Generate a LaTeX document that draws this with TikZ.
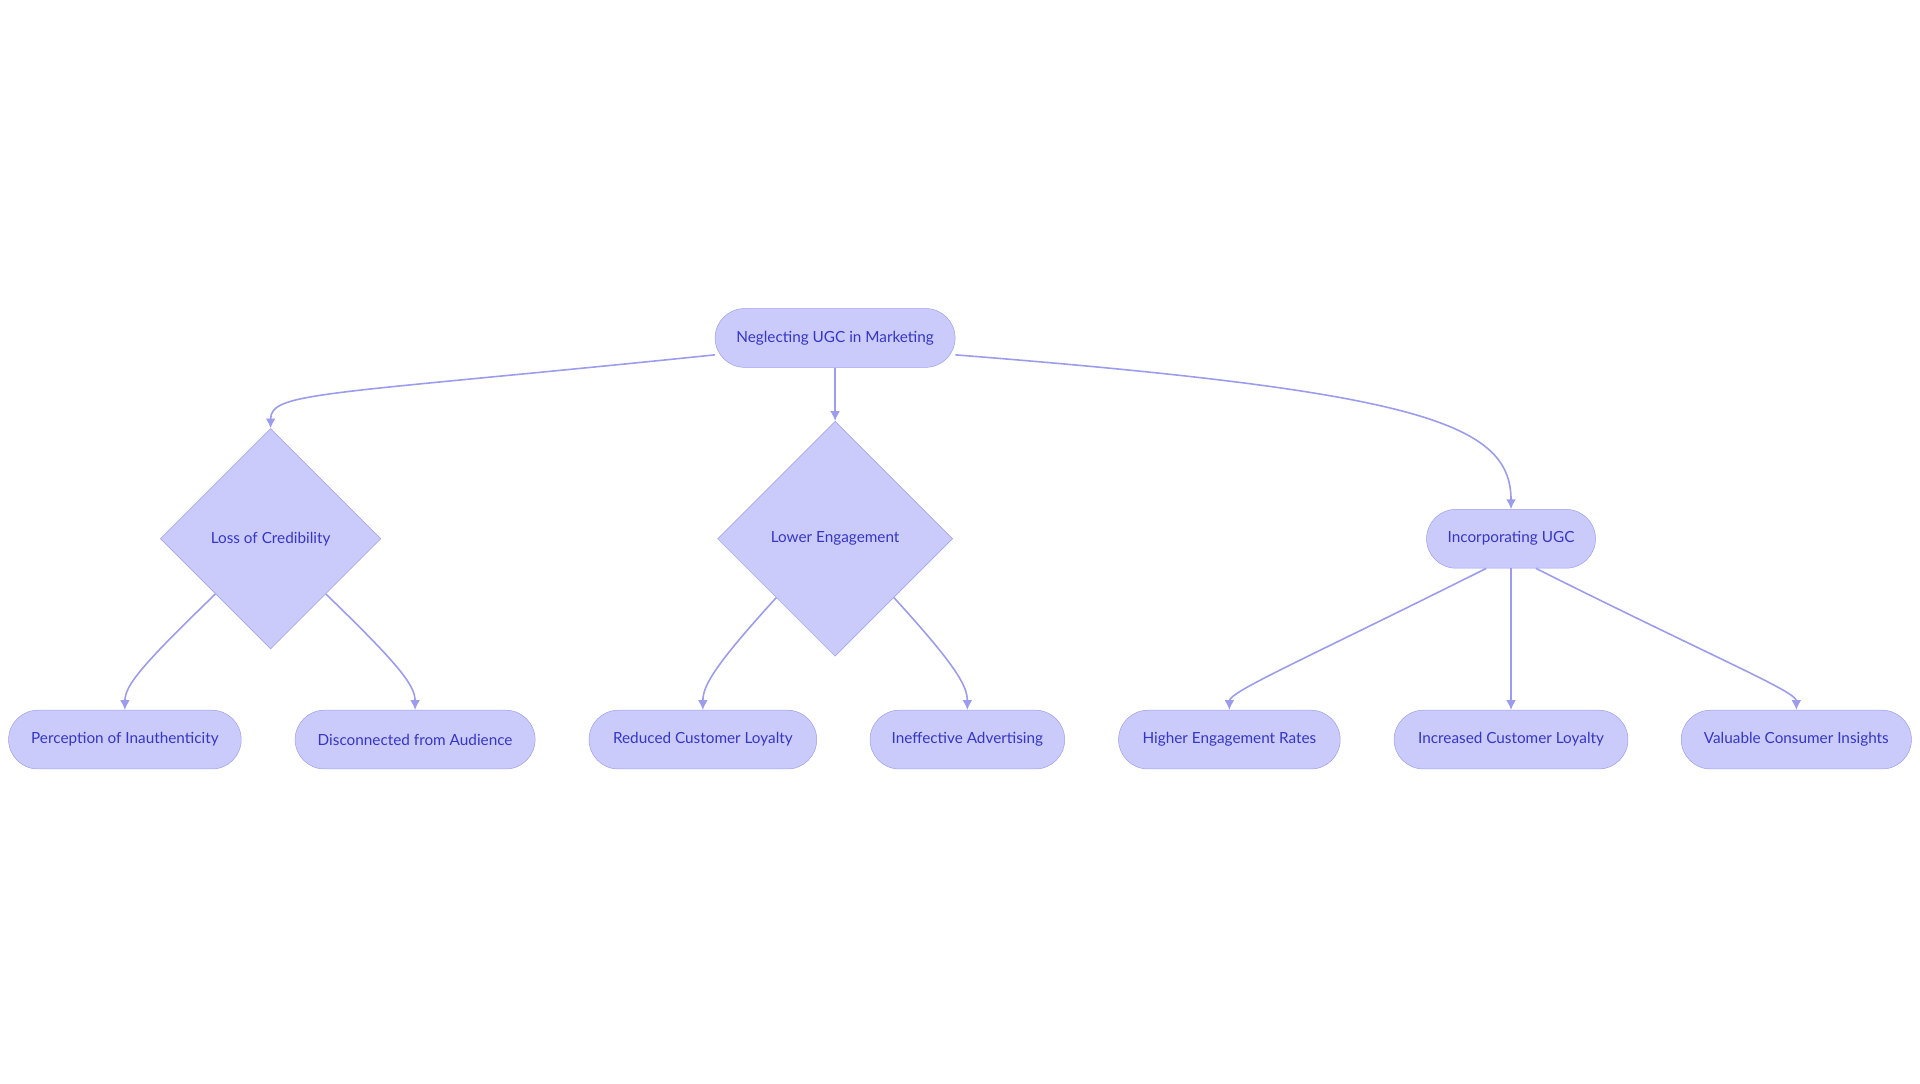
\documentclass[tikz,border=0pt]{standalone}
\usepackage{fontspec}
\setmainfont{Lato}
\usetikzlibrary{shapes.geometric,arrows.meta}
\definecolor{fillc}{HTML}{CBCBFB}
\definecolor{linec}{HTML}{9C9CEE}
\definecolor{txtc}{HTML}{3535C8}
\tikzset{
 pill/.style={draw=linec,fill=fillc,rounded corners=24pt,minimum height=48pt,inner sep=0pt,text=txtc,font=\fontsize{12.5}{14}\selectfont},
 dia/.style={draw=linec,fill=fillc,diamond,inner sep=0pt,text=txtc,font=\fontsize{12.5}{14}\selectfont},
 arr/.style={draw=linec,line width=1.3pt,-{Latex[length=8pt,width=8pt]}}
}
\begin{document}
\begin{tikzpicture}[x=1pt,y=-1pt]
\useasboundingbox (0,0) rectangle (1568,885);
\node[pill,minimum width=196pt] (root) at (682,276) {Neglecting UGC in Marketing};
\node[dia,minimum width=180pt,minimum height=180pt] (loss) at (221,440) {Loss of Credibility};
\node[dia,minimum width=192pt,minimum height=192pt] (low) at (682,440) {Lower Engagement};
\node[pill,minimum width=138pt] (inc) at (1234,440) {Incorporating UGC};
\node[pill,minimum width=190pt] (p) at (102,604) {Perception of Inauthenticity};
\node[pill,minimum width=196pt] (d) at (339,604) {Disconnected from Audience};
\node[pill,minimum width=186pt] (r) at (574,604) {Reduced Customer Loyalty};
\node[pill,minimum width=159pt] (i) at (790,604) {Ineffective Advertising};
\node[pill,minimum width=181pt] (h) at (1004,604) {Higher Engagement Rates};
\node[pill,minimum width=191pt] (c) at (1234,604) {Increased Customer Loyalty};
\node[pill,minimum width=188pt] (v) at (1467,604) {Valuable Consumer Insights};
\draw[arr] (root.188) .. controls +(-320,33) and +(0,-30) .. (loss.north);
\draw[arr] (root.south) -- (low.north);
\draw[arr] (root.-8) .. controls +(380,30) and +(0,-70) .. (inc.north);
\draw[arr] (loss.-135) .. controls +(-60,58) and +(0,-20) .. (p.north);
\draw[arr] (loss.-45) .. controls +(60,58) and +(0,-20) .. (d.north);
\draw[arr] (low.-135) .. controls +(-50,55) and +(0,-20) .. (r.north);
\draw[arr] (low.-45) .. controls +(50,55) and +(0,-20) .. (i.north);
\draw[arr] (inc.-130) .. controls +(-150,75) and +(0,-15) .. (h.north);
\draw[arr] (inc.south) -- (c.north);
\draw[arr] (inc.-50) .. controls +(150,75) and +(0,-15) .. (v.north);
\end{tikzpicture}
\end{document}
